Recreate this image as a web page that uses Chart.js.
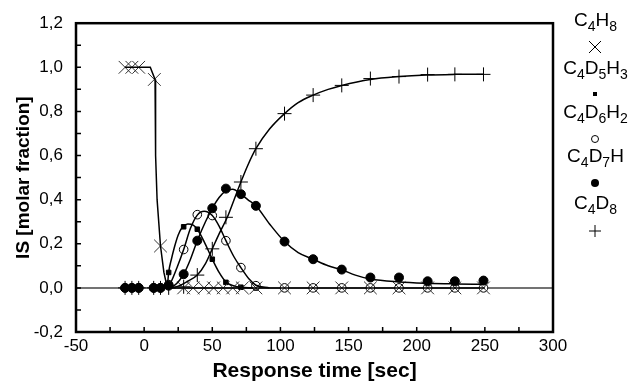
<!DOCTYPE html>
<html lang="en">
<head>
    <meta charset="UTF-8">
    <title>IS molar fraction vs response time</title>
    <script src="https://cdn.jsdelivr.net/npm/chart.js"></script>
    <style>
        html, body { margin: 0; padding: 0; background: #fff; }
        .wrap { position: relative; width: 638px; height: 384px; }
        .legend { position: absolute; left: 553px; top: 0; width: 85px; height: 384px;
                  font-family: "Liberation Sans", Arial, sans-serif; font-size: 19px; color: #000; }
        .legend .name { position: absolute; left: 0; width: 85px; text-align: center; line-height: 20px; }
        .legend svg { position: absolute; left: 35px; }
        .legend sub { font-size: 14px; vertical-align: -5px; line-height: 0; }
    </style>
</head>
<body>
    <div class="wrap">
        <canvas id="chart" width="638" height="384"></canvas>
        <div class="legend">
            <div class="name" style="top:10px">C<sub>4</sub>H<sub>8</sub></div>
            <svg width="14" height="14" style="top:40px"><path d="M1 1L13 13M13 1L1 13" stroke="#000" stroke-width="1"/></svg>
            <div class="name" style="top:58px">C<sub>4</sub>D<sub>5</sub>H<sub>3</sub></div>
            <svg width="14" height="14" style="top:87px"><rect x="5" y="5" width="4" height="4" fill="#000"/></svg>
            <div class="name" style="top:102px">C<sub>4</sub>D<sub>6</sub>H<sub>2</sub></div>
            <svg width="14" height="14" style="top:132px"><circle cx="7" cy="7" r="3.5" fill="#fff" stroke="#000" stroke-width="1"/></svg>
            <div class="name" style="top:146px">C<sub>4</sub>D<sub>7</sub>H</div>
            <svg width="14" height="14" style="top:176px"><circle cx="7" cy="7" r="4" fill="#000"/></svg>
            <div class="name" style="top:193px">C<sub>4</sub>D<sub>8</sub></div>
            <svg width="14" height="14" style="top:224px"><path d="M7 1V13M1 7H13" stroke="#000" stroke-width="1"/></svg>
        </div>
    </div>

    <script>
        // measured points
        const timeMarks = [-14, -9, -4, 7, 12, 18, 29, 39, 50, 60, 71, 82, 103, 124, 145, 166, 187, 208, 228, 249];
        const c4d5h3 = [0, 0, 0, 0, 0, 0.07, 0.277, 0.266, 0.13, 0.025, 0.003, 0, 0, 0, 0, 0, 0, 0, 0, 0];
        const c4d6h2 = [0, 0, 0, 0, 0, 0.015, 0.174, 0.332, 0.328, 0.214, 0.092, 0.01, 0, 0, 0, 0, 0, 0, 0, 0];
        const c4d7h  = [0, 0, 0, 0, 0, 0.01, 0.062, 0.214, 0.361, 0.45, 0.425, 0.372, 0.21, 0.13, 0.083, 0.047, 0.047, 0.03, 0.03, 0.033];
        const c4d8   = [0, 0, 0, 0, 0, 0, 0.005, 0.058, 0.177, 0.32, 0.48, 0.631, 0.79, 0.874, 0.918, 0.949, 0.958, 0.967, 0.968, 0.968];

        const timeC4H8 = [-14, -9, -4, 7.5, 12, 29, 36, 44, 51, 58, 65, 72, 82, 103, 124, 145, 166, 187, 208, 228, 249];
        const c4h8     = [1, 1, 1, 0.945, 0.19, 0, 0, 0, 0, 0, 0, 0, 0, 0, 0, 0, 0, 0, 0, 0, 0];

        // fitted curves
        const fitTimeC4H8 = [-14, 4.5, 8, 8.4, 9.5, 12, 14.5, 17, 250];
        const fitC4H8     = [1, 1, 0.945, 0.6, 0.4, 0.19, 0.07, 0, 0];
        const fitTimeD5 = [17, 18, 20, 22, 25, 28, 32, 36, 39, 44, 50, 55, 60, 66, 71, 80];
        const fitD5     = [0, 0.07, 0.13, 0.18, 0.24, 0.275, 0.29, 0.285, 0.266, 0.21, 0.13, 0.07, 0.027, 0.009, 0.003, 0];
        const fitTimeD6 = [17, 20, 24, 29, 34, 39, 44, 50, 55, 60, 66, 71, 77, 82, 92];
        const fitD6     = [0, 0.03, 0.09, 0.174, 0.27, 0.33, 0.347, 0.328, 0.28, 0.214, 0.14, 0.092, 0.04, 0.012, 0];
        const fitTimeD7 = [17, 22, 26, 29, 34, 39, 45, 50, 55, 60, 65, 71, 76, 82, 92, 103, 113, 124, 135, 145, 155, 166, 187, 208, 228, 249];
        const fitD7     = [0, 0.01, 0.035, 0.062, 0.13, 0.214, 0.3, 0.361, 0.41, 0.44, 0.447, 0.425, 0.4, 0.372, 0.29, 0.21, 0.16, 0.13, 0.1, 0.082, 0.058, 0.04, 0.027, 0.021, 0.018, 0.016];
        const fitTimeD8 = [17, 25, 32, 39, 45, 50, 55, 61, 66, 71, 76, 82, 92, 103, 113, 124, 135, 145, 166, 187, 207, 228, 249];
        const fitD8     = [0, 0.008, 0.03, 0.058, 0.11, 0.177, 0.245, 0.32, 0.4, 0.48, 0.555, 0.631, 0.72, 0.79, 0.84, 0.874, 0.9, 0.918, 0.945, 0.958, 0.965, 0.968, 0.969];

        const xTicks = [-50, 0, 50, 100, 150, 200, 250, 300];
        const yTicks = [-0.2, 0, 0.2, 0.4, 0.6, 0.8, 1.0, 1.2];

        function pairs(xs, ys) {
            return xs.map((x, i) => ({ x: x, y: ys[i] }));
        }

        function curve(xs, ys, tension) {
            return {
                data: pairs(xs, ys),
                borderColor: '#000',
                borderWidth: 1.5,
                pointRadius: 0,
                fill: false,
                tension: tension,
                cubicInterpolationMode: tension ? 'monotone' : 'default'
            };
        }

        function marks(xs, ys, style, radius, fillColor, strokeColor) {
            return {
                data: pairs(xs, ys),
                showLine: false,
                pointStyle: style,
                pointRadius: radius,
                pointBackgroundColor: fillColor,
                pointBorderColor: strokeColor,
                pointBorderWidth: 1
            };
        }

        const fmt = v => (Math.round(v * 10) / 10).toFixed(1).replace('.', ',');

        // frame, inward ticks and the zero line
        const axesPlugin = {
            id: 'axesPlugin',
            beforeDatasetsDraw(chart) {
                const { ctx, chartArea: a, scales: { x, y } } = chart;
                ctx.save();
                ctx.strokeStyle = '#444';
                ctx.lineWidth = 1.5;
                ctx.beginPath();
                ctx.moveTo(a.left, y.getPixelForValue(0));
                ctx.lineTo(a.right, y.getPixelForValue(0));
                ctx.stroke();
                ctx.restore();
            },
            afterDatasetsDraw(chart) {
                const { ctx, chartArea: a, scales: { x, y } } = chart;
                ctx.save();
                ctx.strokeStyle = '#000';
                ctx.lineWidth = 1.5;
                ctx.beginPath();
                for (let v = -25; v < 300; v += 25) {
                    const px = x.getPixelForValue(v);
                    ctx.moveTo(px, a.bottom);
                    ctx.lineTo(px, a.bottom - 5);
                }
                for (let i = -1; i < 12; i++) {
                    const py = y.getPixelForValue(i / 10);
                    ctx.moveTo(a.left, py);
                    ctx.lineTo(a.left + 5, py);
                }
                ctx.stroke();
                ctx.lineWidth = 2.5;
                ctx.strokeRect(a.left, a.top, a.right - a.left, a.bottom - a.top);
                ctx.restore();
            }
        };

        new Chart(document.getElementById('chart'), {
            type: 'line',
            data: {
                datasets: [
                    curve(fitTimeC4H8, fitC4H8, 0),
                    curve(fitTimeD5, fitD5, 0.4),
                    curve(fitTimeD6, fitD6, 0.4),
                    curve(fitTimeD7, fitD7, 0.4),
                    curve(fitTimeD8, fitD8, 0.4),
                    marks(timeC4H8, c4h8, 'crossRot', 9, '#333', '#333'),
                    marks(timeMarks, c4d8, 'cross', 7, '#000', '#000'),
                    marks(timeMarks, c4d7h, 'circle', 4.5, '#000', '#000'),
                    marks(timeMarks, c4d6h2, 'circle', 4.3, '#fff', '#000'),
                    marks(timeMarks, c4d5h3, 'rect', 3.2, '#000', '#000')
                ]
            },
            options: {
                responsive: false,
                animation: false,
                layout: { padding: { left: 12, right: 85, top: 15, bottom: 0 } },
                plugins: { legend: { display: false }, tooltip: { enabled: false } },
                scales: {
                    x: {
                        type: 'linear',
                        min: -50,
                        max: 300,
                        afterBuildTicks: s => { s.ticks = xTicks.map(v => ({ value: v })); },
                        afterFit: s => { s.height = 52; },
                        grid: { display: false, drawTicks: false },
                        border: { display: false },
                        ticks: { color: '#000', padding: 4, maxRotation: 0,
                                 font: { family: 'Liberation Sans', size: 17 } },
                        title: { display: true, text: 'Response time [sec]', color: '#000',
                                 padding: { top: 1, bottom: 0 },
                                 font: { family: 'Liberation Sans', size: 21, weight: 'bold' } }
                    },
                    y: {
                        min: -0.2,
                        max: 1.2,
                        afterBuildTicks: s => { s.ticks = yTicks.map(v => ({ value: v })); },
                        afterFit: s => { s.width = 64; },
                        grid: { display: false, drawTicks: false },
                        border: { display: false },
                        ticks: { color: '#000', padding: 13, callback: v => fmt(v),
                                 font: { family: 'Liberation Sans', size: 17 } },
                        title: { display: true, text: 'IS [molar fraction]', color: '#000',
                                 padding: { top: 0, bottom: 4 },
                                 font: { family: 'Liberation Sans', size: 19, weight: 'bold' } }
                    }
                }
            },
            plugins: [axesPlugin]
        });
    </script>
</body>
</html>
